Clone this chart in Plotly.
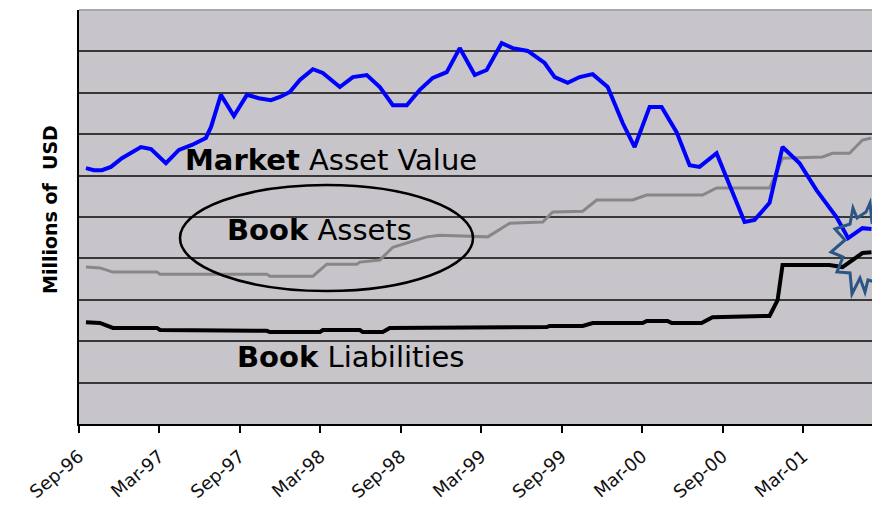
import plotly.graph_objects as go

# ---- data (x = months after Sep-96, y = millions of USD) ----
tick_months = [0, 6, 12, 18, 24, 30, 36, 42, 48, 54]
tick_labels = ["Sep-96", "Mar-97", "Sep-97", "Mar-98", "Sep-98",
               "Mar-99", "Sep-99", "Mar-00", "Sep-00", "Mar-01"]

market_month = [0.52, 1.12, 1.71, 2.38, 3.2, 3.95, 4.62, 5.37, 6.48, 7.45, 8.42, 9.46,
                9.84, 10.58, 11.55, 12.52, 13.41, 14.31, 14.98, 15.72, 16.47, 17.44,
                18.18, 19.45, 20.42, 21.46, 22.43, 23.4, 24.44, 25.41, 26.38, 27.42,
                28.39, 29.51, 30.4, 31.52, 32.34, 33.46, 34.72, 35.47, 36.44, 37.33,
                38.3, 39.42, 40.54, 41.43, 42.55, 43.44, 44.56, 45.53, 46.27, 47.54,
                49.63, 50.37, 51.49, 52.46, 53.73, 54.99, 56.48, 57.35, 58.42, 59.09]
market_value = [618, 613, 613, 621, 642, 657, 669, 664, 630, 662, 674, 691,
                717, 795, 744, 795, 787, 782, 790, 802, 831, 857,
                848, 814, 838, 843, 814, 770, 770, 807, 836, 850,
                908, 843, 855, 920, 908, 901, 872, 838, 824, 838,
                845, 814, 727, 669, 766, 766, 705, 625, 621, 654,
                488, 493, 534, 669, 630, 565, 500, 449, 473, 471]

assets_month = [0.52, 1.56, 2.53, 5.81, 6.04, 14.0, 14.23, 17.44, 18.48, 20.72, 20.94,
                22.43, 23.4, 25.93, 26.9, 30.48, 32.12, 34.58, 35.32, 37.56, 38.6,
                41.28, 42.33, 46.5, 47.54, 51.49, 52.46, 55.44, 56.18, 57.45, 58.42, 59.09]
assets_value = [379, 377, 367, 367, 362, 362, 357, 357, 386, 386, 391,
                396, 427, 452, 456, 452, 485, 488, 512, 514, 541,
                541, 553, 553, 570, 570, 642, 645, 654, 654, 686, 691]

liab_month = [0.52, 1.56, 2.53, 5.81, 6.04, 11.03, 11.26, 14.0, 14.23, 17.96, 18.18,
              20.94, 21.16, 22.65, 23.17, 34.87, 35.1, 37.56, 38.3, 42.03, 42.33,
              43.89, 44.19, 46.42, 47.24, 51.49, 52.09, 52.46, 55.96, 56.93, 58.42, 59.09]
liab_value = [246, 244, 232, 232, 227, 227, 225, 225, 222, 222, 227,
              227, 222, 222, 232, 234, 237, 237, 244, 244, 249,
              249, 244, 244, 258, 261, 299, 384, 384, 379, 413, 415]

# ---- layout geometry ----
W, H = 872, 509
ML, MR, MT, MB = 79, 0, 10, 85
XMAX = 59.13
YMAX = 1000
px_per_month = (W - ML - MR) / XMAX
px_per_unit = (H - MT - MB) / YMAX

FONT = "DejaVu Sans"

fig = go.Figure()
fig.add_trace(go.Scatter(x=assets_month, y=assets_value, mode="lines",
                         line=dict(color="#878787", width=3), name="Book Assets"))
fig.add_trace(go.Scatter(x=liab_month, y=liab_value, mode="lines",
                         line=dict(color="#000000", width=4), name="Book Liabilities"))
fig.add_trace(go.Scatter(x=market_month, y=market_value, mode="lines",
                         line=dict(color="#0000ff", width=4), name="Market Asset Value"))

# ellipse around "Book Assets"
fig.add_shape(type="circle", xref="x", yref="y",
              x0=(180 - ML) / px_per_month, x1=(473 - ML) / px_per_month,
              y0=(H - MB - 291) / px_per_unit, y1=(H - MB - 185) / px_per_unit,
              line=dict(color="black", width=2.5), layer="above")

# starburst decoration near the right edge
cx, cy = (855 - ML) / px_per_month, (H - MB - 250) / px_per_unit
star = [(-2, -42), (2, -32), (11, -38), (15, -47), (17, -28), (33, -35), (25, -15),
        (40, 0), (25, 12), (30, 35), (13, 30), (10, 42), (5, 28), (-3, 44), (-5, 23),
        (-18, 22), (-12, 7), (-24, 2), (-10, -10), (-20, -21), (-5, -26)]
path = ""
for i, (dx, dy) in enumerate(star):
    path += ("M" if i == 0 else "L") + f"{cx + dx / px_per_month},{cy - dy / px_per_unit}"
path += "Z"
fig.add_shape(type="path", xref="x", yref="y", path=path,
              line=dict(color="#2a5585", width=3), fillcolor="rgba(0,0,0,0)", layer="above")

# top border of plot area (light)
fig.add_shape(type="line", xref="paper", yref="paper", x0=0, x1=1, y0=1, y1=1,
              line=dict(color="#a8a8a8", width=2), layer="above")

# text labels
labels = [("<b>Market</b> Asset Value", 183, 160),
          ("<b>Book</b> Assets", 225, 230),
          ("<b>Book</b> Liabilities", 235, 357)]
for txt, px, py in labels:
    fig.add_annotation(x=(px - ML) / px_per_month, y=(H - MB - py) / px_per_unit,
                       xref="x", yref="y", text=txt, showarrow=False,
                       xanchor="left", yanchor="middle",
                       font=dict(family=FONT, size=29, color="black"))

fig.add_annotation(x=(50 - ML) / (W - ML - MR), y=(H - MB - 210) / (H - MT - MB),
                   xref="paper", yref="paper", text="<b>Millions of \u00a0USD</b>",
                   textangle=-90, showarrow=False, xanchor="center", yanchor="middle",
                   font=dict(family=FONT, size=19, color="black"))

fig.update_layout(
    width=W, height=H,
    margin=dict(l=ML, r=MR, t=MT, b=MB, autoexpand=False),
    paper_bgcolor="white", plot_bgcolor="#c7c5c9",
    showlegend=False,
    font=dict(family=FONT, color="black"),
    xaxis=dict(range=[0, XMAX], tickmode="array", tickvals=tick_months, ticktext=tick_labels,
               tickangle=-40, ticks="outside", ticklen=7, tickwidth=1.5, tickcolor="black",
               ticklabelstandoff=6,
               showline=True, linecolor="black", linewidth=2, showgrid=False, zeroline=False,
               automargin=False,
               tickfont=dict(family=FONT, size=18, color="#111111")),
    yaxis=dict(range=[0, YMAX], tick0=0, dtick=100, showticklabels=False, ticks="",
               showline=True, linecolor="black", linewidth=2, showgrid=True,
               gridcolor="#383838", gridwidth=1.5, zeroline=False, automargin=False),
)

fig.write_html("out.html", config={"displayModeBar": False},
               post_script="document.body.style.margin='0';"
                           "document.body.style.overflow='hidden';")
